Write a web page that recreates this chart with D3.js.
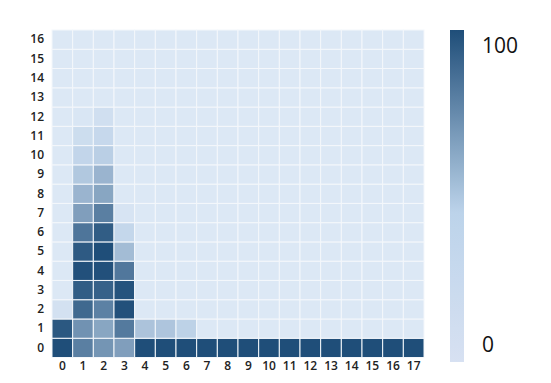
<!DOCTYPE html>
<html><head><meta charset="utf-8">
<script src="https://cdn.jsdelivr.net/npm/d3@7"></script>
<style>body{margin:0;background:#fff;} svg{display:block;}</style>
</head><body>
<svg id="chart" width="551" height="383"></svg>
<script>
const xCategories = d3.range(0, 18).map(String);
const yCategories = d3.range(0, 17).map(String);
// values[row] = values for columns 0..17 (row 0 is bottom)
const row0  = [100, 80, 71, 67, 100, 100, 100, 100, 100, 100, 100, 100, 100, 100, 100, 100, 100, 100];
const row1  = [96, 72, 64, 82, 52, 51, 46, 0, 0, 0, 0, 0, 0, 0, 0, 0, 0, 0];
const row2  = [15, 89, 79, 99, 0, 0, 0, 0, 0, 0, 0, 0, 0, 0, 0, 0, 0, 0];
const row3  = [0, 94, 92, 98, 0, 0, 0, 0, 0, 0, 0, 0, 0, 0, 0, 0, 0, 0];
const row4  = [0, 99, 99, 83, 0, 0, 0, 0, 0, 0, 0, 0, 0, 0, 0, 0, 0, 0];
const row5  = [0, 95, 100, 55, 0, 0, 0, 0, 0, 0, 0, 0, 0, 0, 0, 0, 0, 0];
const row6  = [0, 84, 94, 38, 0, 0, 0, 0, 0, 0, 0, 0, 0, 0, 0, 0, 0, 0];
const row7  = [0, 67, 80, 8, 0, 0, 0, 0, 0, 0, 0, 0, 0, 0, 0, 0, 0, 0];
const row8  = [0, 58, 64, 0, 0, 0, 0, 0, 0, 0, 0, 0, 0, 0, 0, 0, 0, 0];
const row9  = [0, 50, 58, 0, 0, 0, 0, 0, 0, 0, 0, 0, 0, 0, 0, 0, 0, 0];
const row10 = [0, 42, 47, 0, 0, 0, 0, 0, 0, 0, 0, 0, 0, 0, 0, 0, 0, 0];
const row11 = [0, 25, 35, 0, 0, 0, 0, 0, 0, 0, 0, 0, 0, 0, 0, 0, 0, 0];
const row12 = [0, 5, 20, 0, 0, 0, 0, 0, 0, 0, 0, 0, 0, 0, 0, 0, 0, 0];
const row13 = [0, 0, 0, 0, 0, 0, 0, 0, 0, 0, 0, 0, 0, 0, 0, 0, 0, 0];
const row14 = [0, 0, 0, 0, 0, 0, 0, 0, 0, 0, 0, 0, 0, 0, 0, 0, 0, 0];
const row15 = [0, 0, 0, 0, 0, 0, 0, 0, 0, 0, 0, 0, 0, 0, 0, 0, 0, 0];
const row16 = [0, 0, 0, 0, 0, 0, 0, 0, 0, 0, 0, 0, 0, 0, 0, 0, 0, 0];
const rows = [row0,row1,row2,row3,row4,row5,row6,row7,row8,row9,row10,row11,row12,row13,row14,row15,row16];
const colorbarTicks = [0, 100];

const cells = [];
rows.forEach((r, yi) => r.forEach((v, xi) => cells.push({x: xCategories[xi], y: yCategories[yi], v})));

const svg = d3.select('#chart');
const mLeft = 52, mRight = 424, mTop = 30, mBottom = 357.5;

const x = d3.scaleBand().domain(xCategories).range([mLeft, mRight]).padding(0);
const y = d3.scaleBand().domain(yCategories).range([mBottom, mTop]).padding(0);
const color = d3.scaleLinear().domain([0, 45, 100]).range(['#dce8f5', '#c0d4e9', '#1f4e79']).clamp(true);

svg.append('g').selectAll('rect').data(cells).join('rect')
  .attr('x', d => x(d.x)).attr('y', d => y(d.y))
  .attr('width', x.bandwidth()).attr('height', y.bandwidth())
  .attr('fill', d => color(d.v))
  .attr('stroke', '#f4f7fb').attr('stroke-width', 1);

const font = 'Open Sans, Liberation Sans, Arial, sans-serif';

const xAxis = svg.append('g').attr('transform', `translate(0,${mBottom})`)
  .call(d3.axisBottom(x).tickSize(0).tickPadding(4));
xAxis.select('.domain').remove();
xAxis.selectAll('text').attr('font-family', font).attr('font-size', 12).attr('font-weight', 600).attr('fill', '#222');

const yAxis = svg.append('g').attr('transform', `translate(${mLeft - 8},0)`)
  .call(d3.axisLeft(y).tickSize(0).tickPadding(0));
yAxis.select('.domain').remove();
yAxis.selectAll('text').attr('font-family', font).attr('font-size', 12).attr('font-weight', 600).attr('fill', '#222');

// colorbar
const cbX = 450, cbW = 14, cbTop = 30, cbBottom = 362;
const defs = svg.append('defs');
const grad = defs.append('linearGradient').attr('id', 'cbgrad').attr('x1', 0).attr('y1', 1).attr('x2', 0).attr('y2', 0);
const cbColor = d3.scaleLinear().domain([0,45,100]).range(['#d7e1f2','#bcd3ea','#1f4e79']);
d3.range(0, 101, 5).forEach(v => grad.append('stop').attr('offset', v / 100).attr('stop-color', cbColor(v)));
svg.append('rect').attr('x', cbX).attr('y', cbTop).attr('width', cbW).attr('height', cbBottom - cbTop).attr('fill', 'url(#cbgrad)');
const cbScale = d3.scaleLinear().domain([0, 100]).range([cbBottom - 17, cbTop + 16]);
svg.append('g').selectAll('text').data(colorbarTicks).join('text')
  .attr('x', 482).attr('y', d => cbScale(d)).attr('dy', '0.35em')
  .attr('font-family', font).attr('font-size', 21).attr('fill', '#111')
  .text(d => d);
</script>
</body></html>
